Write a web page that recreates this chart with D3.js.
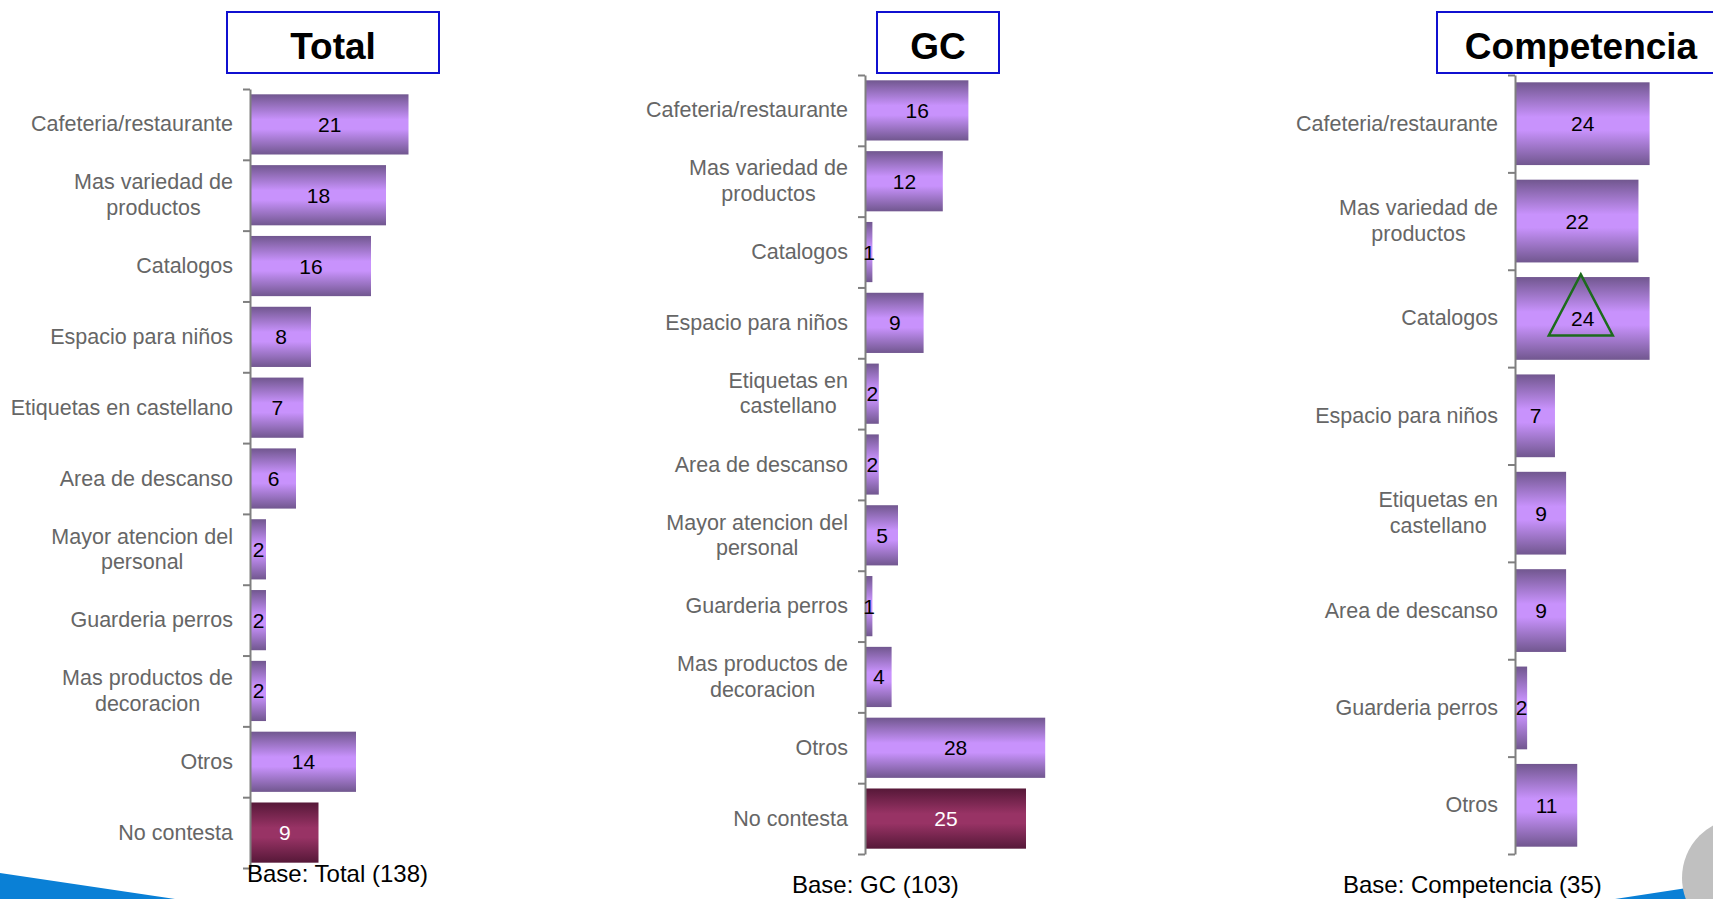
<!DOCTYPE html>
<html>
<head>
<meta charset="utf-8">
<script src="https://cdn.jsdelivr.net/npm/d3@7"></script>
<style>
  html, body { margin: 0; padding: 0; background: #fff; }
  svg { display: block; font-family: 'Liberation Sans', Arial, sans-serif; }
</style>
</head>
<body>
<div id="app"></div>
<script>
// categories per panel ('|' = line break as in the original)
const totalCats = ['Cafeteria/restaurante', 'Mas variedad de|productos', 'Catalogos', 'Espacio para niños',
  'Etiquetas en castellano', 'Area de descanso', 'Mayor atencion del|personal', 'Guarderia perros',
  'Mas productos de|decoracion', 'Otros', 'No contesta']
const totalValues = [21, 18, 16, 8, 7, 6, 2, 2, 2, 14, 9]

const gcCats = ['Cafeteria/restaurante', 'Mas variedad de|productos', 'Catalogos', 'Espacio para niños',
  'Etiquetas en|castellano', 'Area de descanso', 'Mayor atencion del|personal', 'Guarderia perros',
  'Mas productos de|decoracion', 'Otros', 'No contesta']
const gcValues = [16, 12, 1, 9, 2, 2, 5, 1, 4, 28, 25]

const compCats = ['Cafeteria/restaurante', 'Mas variedad de|productos', 'Catalogos', 'Espacio para niños',
  'Etiquetas en|castellano', 'Area de descanso', 'Guarderia perros', 'Otros']
const compValues = [24, 22, 24, 7, 9, 9, 2, 11]
const compSignificant = ['Catalogos'] // green triangle marker

const titles = ['Total', 'GC', 'Competencia']
const baseLabels = ['Base: Total (138)', 'Base: GC (103)', 'Base: Competencia (35)']

const W = 1713, H = 899

const svg = d3.select('#app').append('svg').attr('width', W).attr('height', H)
const defs = svg.append('defs')

function addGradient(id, edge, mid) {
  const g = defs.append('linearGradient').attr('id', id)
    .attr('x1', 0).attr('y1', 0).attr('x2', 0).attr('y2', 1)
  g.append('stop').attr('offset', '0%').attr('stop-color', edge)
  g.append('stop').attr('offset', '42%').attr('stop-color', mid)
  g.append('stop').attr('offset', '58%').attr('stop-color', mid)
  g.append('stop').attr('offset', '100%').attr('stop-color', edge)
}
addGradient('gPurple', '#71578f', '#c892fc')
addGradient('gMaroon', '#561838', '#983365')

// background decorations
svg.append('path').attr('d', 'M0,873 L175,899 L0,899 Z').attr('fill', '#0a80d6')
svg.append('path').attr('d', 'M1615,899 L1713,884 L1713,899 Z').attr('fill', '#0a80d6')
svg.append('circle').attr('cx', 1742).attr('cy', 878).attr('r', 60).attr('fill', '#c0c0c0')

const panels = [
  { cats: totalCats, values: totalValues, axisX: 250, top: 89, bottom: 868, width: 225,
    titleBox: [227, 12, 212, 61], base: [247, 882], marks: [] },
  { cats: gcCats, values: gcValues, axisX: 865, top: 75, bottom: 854, width: 192,
    titleBox: [877, 12, 122, 61], base: [792, 893], marks: [] },
  { cats: compCats, values: compValues, axisX: 1515, top: 75, bottom: 854, width: 167,
    titleBox: [1437, 12, 290, 61], titleX: 1581, base: [1343, 893], marks: compSignificant },
]

panels.forEach((p, pi) => {
  const g = svg.append('g')
  const names = p.cats.map(c => c.replace('|', ' '))

  const y = d3.scaleBand().domain(names).range([p.top, p.bottom])
    .paddingInner(0.15).paddingOuter(0.075)
  const x = d3.scaleLinear().domain([0, 30]).range([p.axisX + 1, p.axisX + 1 + p.width])
  // index scale for the tick marks at category boundaries
  const yIdx = d3.scaleLinear().domain([0, names.length]).range([p.top, p.bottom])

  // title
  const [bx, by, bw, bh] = p.titleBox
  g.append('rect').attr('x', bx).attr('y', by).attr('width', bw).attr('height', bh)
    .attr('fill', '#fff').attr('stroke', '#1010d0').attr('stroke-width', 2)
  g.append('text').attr('x', p.titleX || bx + bw / 2).attr('y', by + bh / 2 + 16)
    .attr('text-anchor', 'middle').attr('font-size', 37).attr('font-weight', 'bold')
    .attr('fill', '#000').text(titles[pi])

  // bars
  g.selectAll('rect.bar').data(names).join('rect').attr('class', 'bar')
    .attr('x', x(0)).attr('y', d => y(d))
    .attr('width', (d, i) => x(p.values[i]) - x(0)).attr('height', y.bandwidth())
    .attr('fill', d => d === 'No contesta' ? 'url(#gMaroon)' : 'url(#gPurple)')

  // axis
  const axis = d3.axisLeft(yIdx).tickValues(d3.range(names.length + 1))
    .tickFormat('').tickSize(7).tickSizeOuter(0)
  const ax = g.append('g').attr('transform', `translate(${p.axisX},0)`).call(axis)
  ax.select('.domain').attr('stroke', '#7f7f7f').attr('stroke-width', 2)
  ax.selectAll('.tick line').attr('stroke', '#7f7f7f').attr('stroke-width', 2)

  // category labels: block right-aligned, lines centred inside the block
  const right = p.axisX - 17
  g.selectAll('text.cat').data(p.cats).join('text').attr('class', 'cat')
    .attr('text-anchor', 'middle').attr('font-size', 21.5).attr('fill', '#666')
    .each(function (c, i) {
      const lines = c.split('|')
      const cy = y(names[i]) + y.bandwidth() / 2
      const t = d3.select(this)
      const spans = lines.map((ln, li) => t.append('tspan')
        .attr('y', cy + 7 + (li - (lines.length - 1) / 2) * 25.5).text(ln))
      const maxW = d3.max(spans, s => s.node().getComputedTextLength())
      spans.forEach(s => s.attr('x', right - maxW / 2))
    })

  // significance markers
  names.filter(n => p.marks.includes(n)).forEach(n => {
    const i = names.indexOf(n)
    const cx = (x(0) + x(p.values[i])) / 2
    const cy = y(n) + y.bandwidth() / 2
    g.append('path')
      .attr('d', `M${cx - 2},${cy - 44} L${cx + 30},${cy + 17} L${cx - 34},${cy + 17} Z`)
      .attr('fill', 'none').attr('stroke', '#1c6b1c').attr('stroke-width', 2.5)
  })

  // value labels
  g.selectAll('text.val').data(names).join('text').attr('class', 'val')
    .attr('x', (d, i) => (x(0) + x(p.values[i])) / 2)
    .attr('y', d => y(d) + y.bandwidth() / 2 + 7.5)
    .attr('text-anchor', 'middle').attr('font-size', 21)
    .attr('fill', d => d === 'No contesta' ? '#fff' : '#000')
    .text((d, i) => p.values[i])

  // base note
  g.append('text').attr('x', p.base[0]).attr('y', p.base[1])
    .attr('font-size', 24).attr('fill', '#000').text(baseLabels[pi])
})
</script>
</body>
</html>
